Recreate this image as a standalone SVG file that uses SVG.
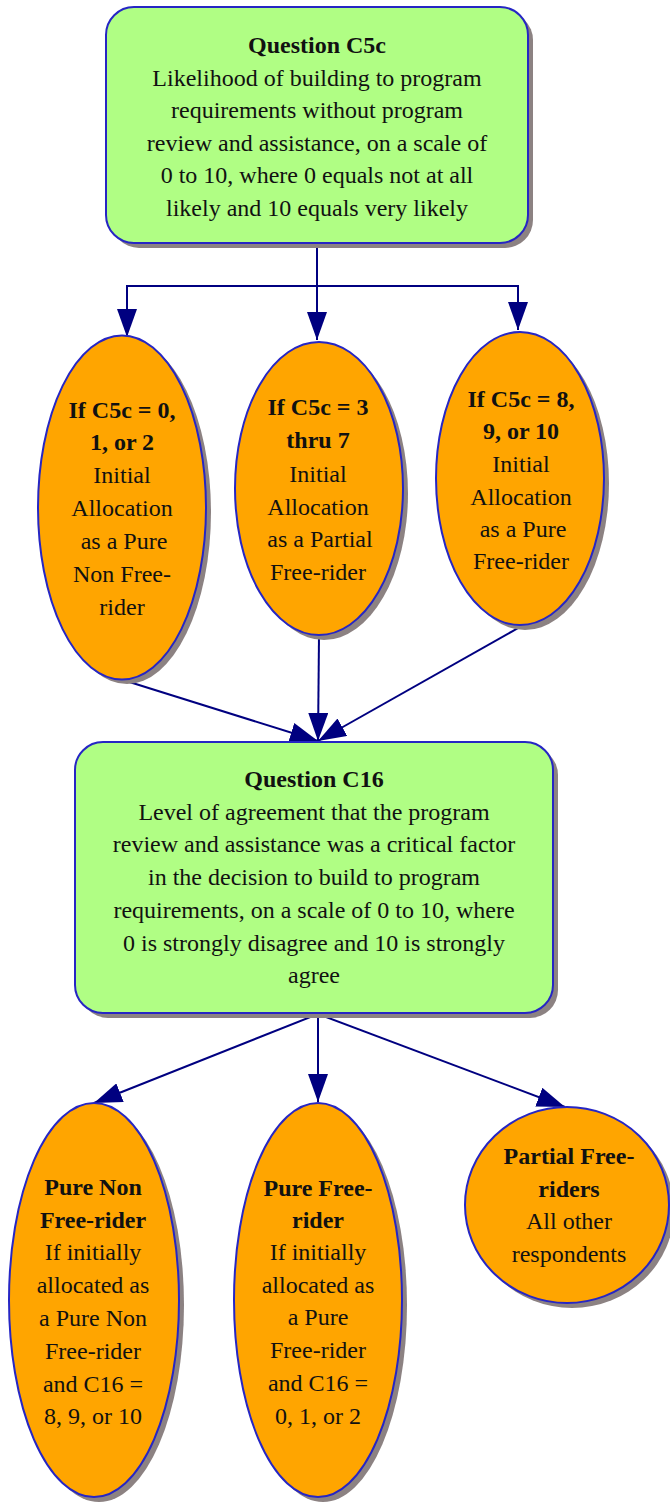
<svg xmlns="http://www.w3.org/2000/svg" width="670" height="1507" viewBox="0 0 670 1507">
<defs>
<style>
.box{fill:#b0fe84;stroke:#2626c4;stroke-width:2}
.ell{fill:#ffa500;stroke:#2626c4;stroke-width:2}
.sh{fill:#8c8282}
.edge{fill:none;stroke:#000080;stroke-width:2}
text{font-family:"Liberation Serif","Times New Roman",serif;font-size:24px;fill:#111;text-anchor:middle}
.b{font-weight:bold}
</style>
<marker id="arr" markerWidth="28" markerHeight="20" refX="28" refY="10" orient="auto" markerUnits="userSpaceOnUse">
<path d="M0,0 L28,10 L0,20 Z" fill="#000080"/>
</marker>
</defs>
<rect width="670" height="1507" fill="#ffffff"/>

<g id="connectors">
<path class="edge" d="M317,245 V286 H127 V337" marker-end="url(#arr)"/>
<path class="edge" d="M317,245 V340" marker-end="url(#arr)"/>
<path class="edge" d="M317,286 H518 V330" marker-end="url(#arr)"/>
<path class="edge" d="M123,680 L318,741" marker-end="url(#arr)"/>
<path class="edge" d="M319,636 L318,741" marker-end="url(#arr)"/>
<path class="edge" d="M520,627 L318,741" marker-end="url(#arr)"/>
<path class="edge" d="M318,1014 L94,1103" marker-end="url(#arr)"/>
<path class="edge" d="M318,1014 V1102" marker-end="url(#arr)"/>
<path class="edge" d="M318,1014 L565,1107" marker-end="url(#arr)"/>
</g>

<g id="q-c5c">
<rect class="sh" x="111" y="12" width="422" height="236" rx="28"/>
<rect class="box" x="106" y="7" width="422" height="236" rx="28"/>
<text class="b" x="317" y="53">Question C5c</text>
<text x="317" y="85.5">Likelihood of building to program</text>
<text x="317" y="118">requirements without program</text>
<text x="317" y="150.5">review and assistance, on a scale of</text>
<text x="317" y="183">0 to 10, where 0 equals not at all</text>
<text x="317" y="215.5">likely and 10 equals very likely</text>
</g>

<g id="c5c-low">
<ellipse class="sh" cx="127" cy="512" rx="84" ry="172"/>
<ellipse class="ell" cx="122" cy="507.5" rx="84" ry="172"/>
<text class="b" x="122" y="418">If C5c = 0,</text>
<text class="b" x="122" y="450">1, or 2</text>
<text x="122" y="483">Initial</text>
<text x="122" y="516">Allocation</text>
<text x="124" y="549">as a Pure</text>
<text x="122" y="582">Non Free-</text>
<text x="122" y="615">rider</text>
</g>

<g id="c5c-mid">
<ellipse class="sh" cx="324" cy="493.5" rx="84" ry="146.5"/>
<ellipse class="ell" cx="319" cy="488.5" rx="84" ry="146.5"/>
<text class="b" x="318" y="415">If C5c = 3</text>
<text class="b" x="318" y="448">thru 7</text>
<text x="318" y="482">Initial</text>
<text x="318" y="515">Allocation</text>
<text x="320" y="547">as a Partial</text>
<text x="318" y="580">Free-rider</text>
</g>

<g id="c5c-high">
<ellipse class="sh" cx="525" cy="483.5" rx="84" ry="146.5"/>
<ellipse class="ell" cx="520" cy="478.5" rx="84" ry="146.5"/>
<text class="b" x="521" y="407">If C5c = 8,</text>
<text class="b" x="521" y="439">9, or 10</text>
<text x="521" y="472">Initial</text>
<text x="521" y="505">Allocation</text>
<text x="523" y="537">as a Pure</text>
<text x="521" y="569">Free-rider</text>
</g>

<g id="q-c16">
<rect class="sh" x="80" y="747" width="478" height="271" rx="28"/>
<rect class="box" x="75" y="742" width="478" height="271" rx="28"/>
<text class="b" x="314" y="787">Question C16</text>
<text x="314" y="819.7">Level of agreement that the program</text>
<text x="314" y="852.4">review and assistance was a critical factor</text>
<text x="314" y="885.1">in the decision to build to program</text>
<text x="314" y="917.8">requirements, on a scale of 0 to 10, where</text>
<text x="314" y="950.5">0 is strongly disagree and 10 is strongly</text>
<text x="314" y="983.2">agree</text>
</g>

<g id="pure-non-free-rider">
<ellipse class="sh" cx="99" cy="1305" rx="85" ry="197"/>
<ellipse class="ell" cx="94" cy="1300" rx="85" ry="197"/>
<text class="b" x="93" y="1195">Pure Non</text>
<text class="b" x="93" y="1228">Free-rider</text>
<text x="93" y="1260">If initially</text>
<text x="93" y="1293">allocated as</text>
<text x="93" y="1326">a Pure Non</text>
<text x="93" y="1359">Free-rider</text>
<text x="93" y="1392">and C16 =</text>
<text x="93" y="1424">8, 9, or 10</text>
</g>

<g id="pure-free-rider">
<ellipse class="sh" cx="323" cy="1305" rx="84" ry="197"/>
<ellipse class="ell" cx="318" cy="1300" rx="84" ry="197"/>
<text class="b" x="318" y="1196">Pure Free-</text>
<text class="b" x="318" y="1228">rider</text>
<text x="318" y="1260">If initially</text>
<text x="318" y="1293">allocated as</text>
<text x="318" y="1325">a Pure</text>
<text x="318" y="1358">Free-rider</text>
<text x="318" y="1391">and C16 =</text>
<text x="318" y="1424">0, 1, or 2</text>
</g>

<g id="partial-free-riders">
<ellipse class="sh" cx="572" cy="1210" rx="102" ry="98"/>
<ellipse class="ell" cx="567" cy="1205" rx="102" ry="98"/>
<text class="b" x="569" y="1164">Partial Free-</text>
<text class="b" x="569" y="1197">riders</text>
<text x="569" y="1229">All other</text>
<text x="569" y="1262">respondents</text>
</g>
</svg>
